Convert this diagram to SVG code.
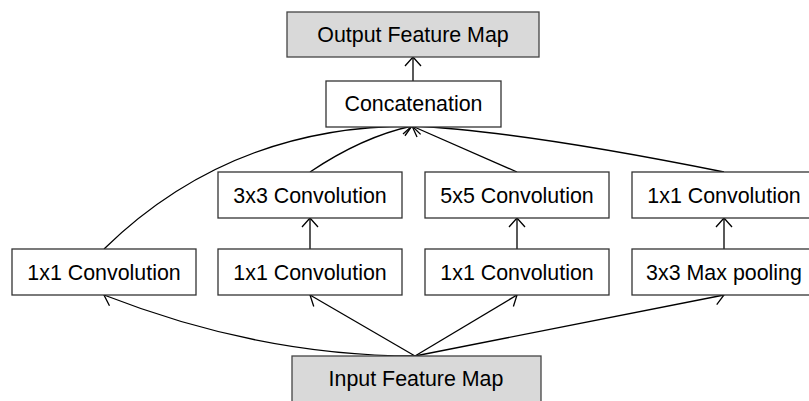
<svg xmlns="http://www.w3.org/2000/svg" width="809" height="401" viewBox="0 0 809 401">
<defs>
<marker id="arr" markerUnits="userSpaceOnUse" markerWidth="20" markerHeight="20" viewBox="-12 -10 14 20" refX="0" refY="0" orient="auto">
<path d="M-9,-8 L0,0 L-9,8" fill="none" stroke="#000" stroke-width="1.3"/>
</marker>
</defs>
<style>
.box{fill:#fff;stroke:#333;stroke-width:1.3}
.gray{fill:#d9d9d9;stroke:#444;stroke-width:1.3}
.t{font-family:"Liberation Sans",Arial,sans-serif;font-size:21.4px;fill:#000;text-anchor:middle}
.e{fill:none;stroke:#000;stroke-width:1.3;marker-end:url(#arr)}
</style>
<rect width="809" height="401" fill="#fff"/>
<g id="connectors">
<path class="e" d="M413,81 L413,57"/>
<path class="e" d="M104,249 Q230,126 412,126"/>
<path class="e" d="M310,172 Q362,137 412,126"/>
<path class="e" d="M517,172 L412,126"/>
<path class="e" d="M724,172 Q520,131 412,126"/>
<path class="e" d="M310,249 L310,218"/>
<path class="e" d="M517,249 L517,218"/>
<path class="e" d="M724,249 L724,218"/>
<path class="e" d="M415,356 Q260,356 104,295"/>
<path class="e" d="M415,356 L310,295"/>
<path class="e" d="M415,356 L517,295"/>
<path class="e" d="M415,356 L724,295"/>
</g>
<g id="output">
<rect class="gray" x="287" y="12" width="252" height="45"/>
<text class="t" x="413" y="42">Output Feature Map</text>
</g>
<g id="concat">
<rect class="box" x="326" y="81" width="175" height="46"/>
<text class="t" x="413.5" y="111">Concatenation</text>
</g>
<g id="conv3x3">
<rect class="box" x="218" y="172" width="184" height="46"/>
<text class="t" x="310" y="202.5">3x3 Convolution</text>
</g>
<g id="conv5x5">
<rect class="box" x="425" y="172" width="184" height="46"/>
<text class="t" x="517" y="202.5">5x5 Convolution</text>
</g>
<g id="conv1x1d">
<rect class="box" x="632" y="172" width="184" height="46"/>
<text class="t" x="724" y="202.5">1x1 Convolution</text>
</g>
<g id="conv1x1a">
<rect class="box" x="12" y="249" width="184" height="46"/>
<text class="t" x="104" y="279.5">1x1 Convolution</text>
</g>
<g id="conv1x1b">
<rect class="box" x="218" y="249" width="184" height="46"/>
<text class="t" x="310" y="279.5">1x1 Convolution</text>
</g>
<g id="conv1x1c">
<rect class="box" x="425" y="249" width="184" height="46"/>
<text class="t" x="517" y="279.5">1x1 Convolution</text>
</g>
<g id="maxpool">
<rect class="box" x="632" y="249" width="184" height="46"/>
<text class="t" x="724" y="279.5">3x3 Max pooling</text>
</g>
<g id="input">
<rect class="gray" x="292" y="356" width="249" height="48"/>
<text class="t" x="416" y="386">Input Feature Map</text>
</g>
</svg>
